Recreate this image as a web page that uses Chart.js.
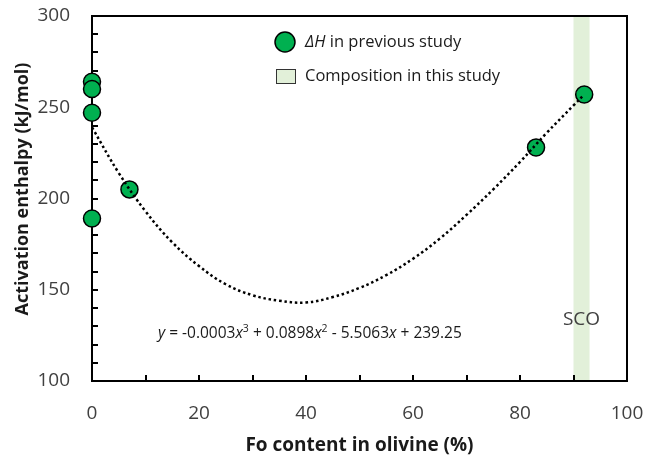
<!DOCTYPE html>
<html>
<head>
<meta charset="utf-8">
<script src="https://cdn.jsdelivr.net/npm/chart.js@4.4.1/dist/chart.umd.min.js"></script>
<style>
    html, body { margin: 0; padding: 0; background: #fff; }
</style>
</head>
<body>
<canvas id="chart" width="646" height="456"></canvas>
<script>
// 先行研究のデータ (Fo含有量 vs 活性化エンタルピー)
const foContent = [0, 0, 0, 0, 7, 83, 92];
const enthalpy = [264, 260, 247, 189, 205, 228, 257];

// 近似曲線 (3次) を図から読み取った点
const trendX = [0, 5, 10, 15, 20, 25, 30, 35, 40, 45, 50, 55, 60, 65, 70, 75, 80, 85, 90, 92];
const trendY = [239, 214, 193, 176, 163, 153, 147, 144, 143, 146, 151, 158, 167, 178, 191, 205, 220, 236, 251, 257];

// 本研究の組成 (SCO)
const scoRange = [90, 93];

// 目盛り
const xLabels = [0, 20, 40, 60, 80, 100];
const yLabels = [100, 150, 200, 250, 300];

const font = '"Open Sans", "DejaVu Sans", sans-serif';
const green = '#00b050';
const band = '#e2f0d9';

// 帯・枠・内向き目盛り (点より下)、凡例・注記 (最後)
const decor = {
    id: 'decor',
    beforeDatasetsDraw(chart) {
        const { ctx, chartArea: a, scales: { x, y } } = chart;
        const x0 = x.getPixelForValue(scoRange[0]);
        const x1 = x.getPixelForValue(scoRange[1]);
        ctx.save();
        ctx.fillStyle = band;
        ctx.fillRect(x0, a.top, x1 - x0, a.bottom - a.top);

        ctx.strokeStyle = '#000';
        ctx.lineWidth = 2;
        ctx.beginPath();
        for (let v = 10; v < 100; v += 10) {
            const px = Math.round(x.getPixelForValue(v));
            ctx.moveTo(px, a.bottom);
            ctx.lineTo(px, a.bottom - 6);
        }
        for (let v = 110; v < 300; v += 10) {
            const py = Math.round(y.getPixelForValue(v));
            ctx.moveTo(a.left, py);
            ctx.lineTo(a.left + 6, py);
        }
        ctx.stroke();
        ctx.strokeRect(a.left, a.top, a.right - a.left, a.bottom - a.top);
        ctx.restore();
    },
    afterDraw(chart) {
        const { ctx, scales: { x } } = chart;
        ctx.save();

        // 縦軸タイトル
        ctx.save();
        ctx.translate(23, 189);
        ctx.rotate(-Math.PI / 2);
        ctx.fillStyle = '#1a1a1a';
        ctx.font = 'bold 18px ' + font;
        ctx.textAlign = 'center';
        ctx.textBaseline = 'middle';
        ctx.fillText('Activation enthalpy (kJ/mol)', 0, 0);
        ctx.restore();

        // 凡例
        ctx.fillStyle = green;
        ctx.strokeStyle = '#000';
        ctx.lineWidth = 1.5;
        ctx.beginPath();
        ctx.arc(285, 42, 10, 0, Math.PI * 2);
        ctx.fill();
        ctx.stroke();

        ctx.fillStyle = band;
        ctx.lineWidth = 1;
        ctx.strokeStyle = '#333';
        ctx.fillRect(276.5, 69.5, 19, 14);
        ctx.strokeRect(276.5, 69.5, 19, 14);

        ctx.fillStyle = '#1a1a1a';
        ctx.textBaseline = 'middle';
        ctx.textAlign = 'left';
        ctx.font = 'italic 16.5px ' + font;
        ctx.fillText('ΔH', 305, 42);
        let w = ctx.measureText('ΔH').width;
        ctx.font = '16.5px ' + font;
        ctx.fillText(' in previous study', 305 + w, 42);
        ctx.fillText('Composition in this study', 305, 76);

        // SCO
        ctx.fillStyle = '#404040';
        ctx.font = '19px ' + font;
        ctx.textAlign = 'center';
        const bandMid = x.getPixelForValue((scoRange[0] + scoRange[1]) / 2);
        ctx.fillText('SCO', bandMid, 320);

        // 近似式
        ctx.fillStyle = '#1a1a1a';
        ctx.textAlign = 'left';
        ctx.textBaseline = 'alphabetic';
        const parts = [
            ['y', 'i'], [' = -0.0003', 'n'], ['x', 'i'], ['3', 's'],
            [' + 0.0898', 'n'], ['x', 'i'], ['2', 's'],
            [' - 5.5063', 'n'], ['x', 'i'], [' + 239.25', 'n']
        ];
        let cx = 158;
        const base = 338;
        parts.forEach(([t, k]) => {
            if (k === 'i') ctx.font = 'italic 15.5px ' + font;
            else if (k === 's') ctx.font = '10.5px ' + font;
            else ctx.font = '15.5px ' + font;
            ctx.fillText(t, cx, k === 's' ? base - 6 : base);
            cx += ctx.measureText(t).width;
        });

        ctx.restore();
    }
};

// 目盛りラベルによる余白を消して描画領域を固定する
const fixX = (s) => { s.height = 75; s.paddingLeft = 0; s.paddingRight = 0; s.paddingTop = 0; s.paddingBottom = 0; };
const fixY = (s) => { s.width = 92; s.paddingLeft = 0; s.paddingRight = 0; s.paddingTop = 0; s.paddingBottom = 0; };

const graph = document.getElementById('chart');
const config = {
    type: 'scatter',
    data: {
        datasets: [{
            label: 'trend',
            type: 'line',
            data: trendX.map((v, i) => ({ x: v, y: trendY[i] })),
            borderColor: '#000',
            borderWidth: 2.5,
            borderDash: [2.5, 2.8],
            pointRadius: 0,
            tension: 0.4,
            fill: false,
            order: 0,
        }, {
            label: 'ΔH in previous study',
            data: foContent.map((v, i) => ({ x: v, y: enthalpy[i] })),
            backgroundColor: green,
            borderColor: '#000',
            borderWidth: 1.5,
            pointRadius: 8.5,
            clip: false,
            order: 1,
        }]
    },
    options: {
        responsive: false,
        animation: false,
        layout: { padding: { top: 16, right: 19, left: 0, bottom: 0 } },
        plugins: { legend: { display: false }, tooltip: { enabled: false } },
        scales: {
            x: {
                type: 'linear',
                min: 0,
                max: 100,
                afterFit: fixX,
                grid: { display: false, drawTicks: false },
                border: { display: false },
                ticks: {
                    stepSize: 20,
                    padding: 21,
                    color: '#404040',
                    font: { family: font, size: 19 },
                    callback: (v) => xLabels.includes(v) ? v : '',
                },
                title: {
                    display: true,
                    text: 'Fo content in olivine (%)',
                    color: '#1a1a1a',
                    font: { family: font, size: 19, weight: 'bold', lineHeight: 1.1 },
                    padding: { top: 0, bottom: 0 },
                },
            },
            y: {
                type: 'linear',
                min: 100,
                max: 300,
                afterFit: fixY,
                grid: { display: false, drawTicks: false },
                border: { display: false },
                ticks: {
                    stepSize: 50,
                    padding: 22,
                    color: '#404040',
                    font: { family: font, size: 19 },
                    callback: (v) => yLabels.includes(v) ? v : '',
                },
            }
        }
    },
    plugins: [decor],
};

let chart = new Chart(graph, config);
</script>
</body>
</html>
